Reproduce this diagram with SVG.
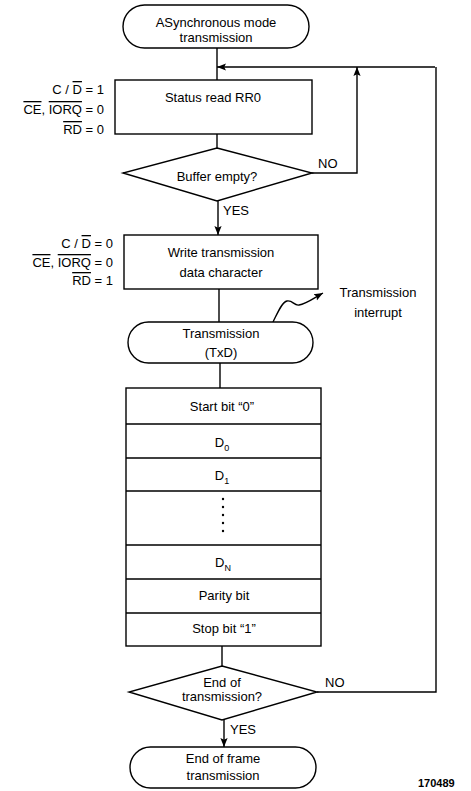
<svg xmlns="http://www.w3.org/2000/svg" width="471" height="791" viewBox="0 0 471 791">
<defs>
<marker id="ah" viewBox="0 0 10 10" refX="10" refY="5" markerWidth="9" markerHeight="9" markerUnits="userSpaceOnUse" orient="auto">
<path d="M0,1 L10,5 L0,9 L2,5 Z" fill="#000"/>
</marker>
</defs>
<style>
text{font-family:"Liberation Sans",Arial,sans-serif;font-size:13px;fill:#000}
.c{text-anchor:middle}
.r{text-anchor:end}
.s{fill:#fff;stroke:#000;stroke-width:1.4}
.l{fill:none;stroke:#000;stroke-width:1.4}
.ov{text-decoration:overline}
.sub{font-size:9px}
.id{font-size:11px;font-weight:bold}
</style>
<rect width="471" height="791" fill="#fff"/>
<g id="connectors">
<path class="l" d="M217,48 V80"/>
<path class="l" d="M435,67 H217" marker-end="url(#ah)"/>
<path class="l" d="M217,134 V148"/>
<path class="l" d="M312,173 H357 V67" marker-end="url(#ah)"/>
<path class="l" d="M218,201 V235" marker-end="url(#ah)"/>
<path class="l" d="M219,289 V322"/>
<path class="l" d="M220,363 V388"/>
<path class="l" d="M222,646 V666"/>
<path class="l" d="M317,692 H436 V67"/>
<path class="l" d="M224,720 V747" marker-end="url(#ah)"/>
<path class="l" d="M273,322 C278,312 282,302 287,301 C293,300 294,306 299,305 C306,304 314,298 323,293" marker-end="url(#ah)"/>
</g>
<g id="start">
<rect class="s" x="123" y="5" width="186" height="43" rx="21.5"/>
<text class="c" x="216" y="27">ASynchronous mode</text>
<text class="c" x="216" y="42">transmission</text>
</g>
<g id="status">
<rect class="s" x="115" y="80" width="197" height="54"/>
<text class="c" x="213" y="102">Status read RR0</text>
<text class="r" x="104" y="94">C / <tspan class="ov">D</tspan> = 1</text>
<text class="r" x="104" y="114"><tspan class="ov">CE</tspan>, <tspan class="ov">IORQ</tspan> = 0</text>
<text class="r" x="104" y="134"><tspan class="ov">RD</tspan> = 0</text>
</g>
<g id="buffer">
<path class="s" d="M217,148 L312,173 L217,201 L123,173 Z"/>
<text class="c" x="217" y="181">Buffer empty?</text>
<text x="318" y="168">NO</text>
<text x="223" y="215">YES</text>
</g>
<g id="write">
<rect class="s" x="124" y="235" width="194" height="54"/>
<text class="c" x="221" y="257">Write transmission</text>
<text class="c" x="221" y="277">data character</text>
<text class="r" x="113" y="248">C / <tspan class="ov">D</tspan> = 0</text>
<text class="r" x="113" y="267"><tspan class="ov">CE</tspan>, <tspan class="ov">IORQ</tspan> = 0</text>
<text class="r" x="113" y="285"><tspan class="ov">RD</tspan> = 1</text>
</g>
<g id="interrupt">
<text class="c" x="378" y="297">Transmission</text>
<text class="c" x="378" y="317">interrupt</text>
</g>
<g id="txd">
<rect class="s" x="128" y="322" width="185" height="41" rx="20.5"/>
<text class="c" x="221" y="338">Transmission</text>
<text class="c" x="221" y="357">(TxD)</text>
</g>
<g id="frame">
<rect class="s" x="126" y="388" width="195" height="258"/>
<path class="l" d="M126,424 H321 M126,458 H321 M126,491 H321 M126,545 H321 M126,579 H321 M126,613 H321"/>
<text class="c" x="222" y="411">Start bit “0”</text>
<text class="c" x="222" y="447">D<tspan class="sub" dy="4">0</tspan></text>
<text class="c" x="222" y="480">D<tspan class="sub" dy="4">1</tspan></text>
<g fill="#000">
<circle cx="223" cy="499" r="1.2"/><circle cx="223" cy="507" r="1.2"/><circle cx="223" cy="515" r="1.2"/><circle cx="223" cy="523" r="1.2"/><circle cx="223" cy="531" r="1.2"/>
</g>
<text class="c" x="223" y="567">D<tspan class="sub" dy="4">N</tspan></text>
<text class="c" x="224" y="600">Parity bit</text>
<text class="c" x="224" y="633">Stop bit “1”</text>
</g>
<g id="endtx">
<path class="s" d="M222,666 L317,692 L222,720 L129,692 Z"/>
<text class="c" x="222" y="687">End of</text>
<text class="c" x="222" y="701">transmission?</text>
<text x="325" y="687">NO</text>
<text x="230" y="734">YES</text>
</g>
<g id="end">
<rect class="s" x="130" y="747" width="186" height="41" rx="20.5"/>
<text class="c" x="223" y="763">End of frame</text>
<text class="c" x="223" y="780">transmission</text>
</g>
<text class="id" x="418" y="787">170489</text>
</svg>
